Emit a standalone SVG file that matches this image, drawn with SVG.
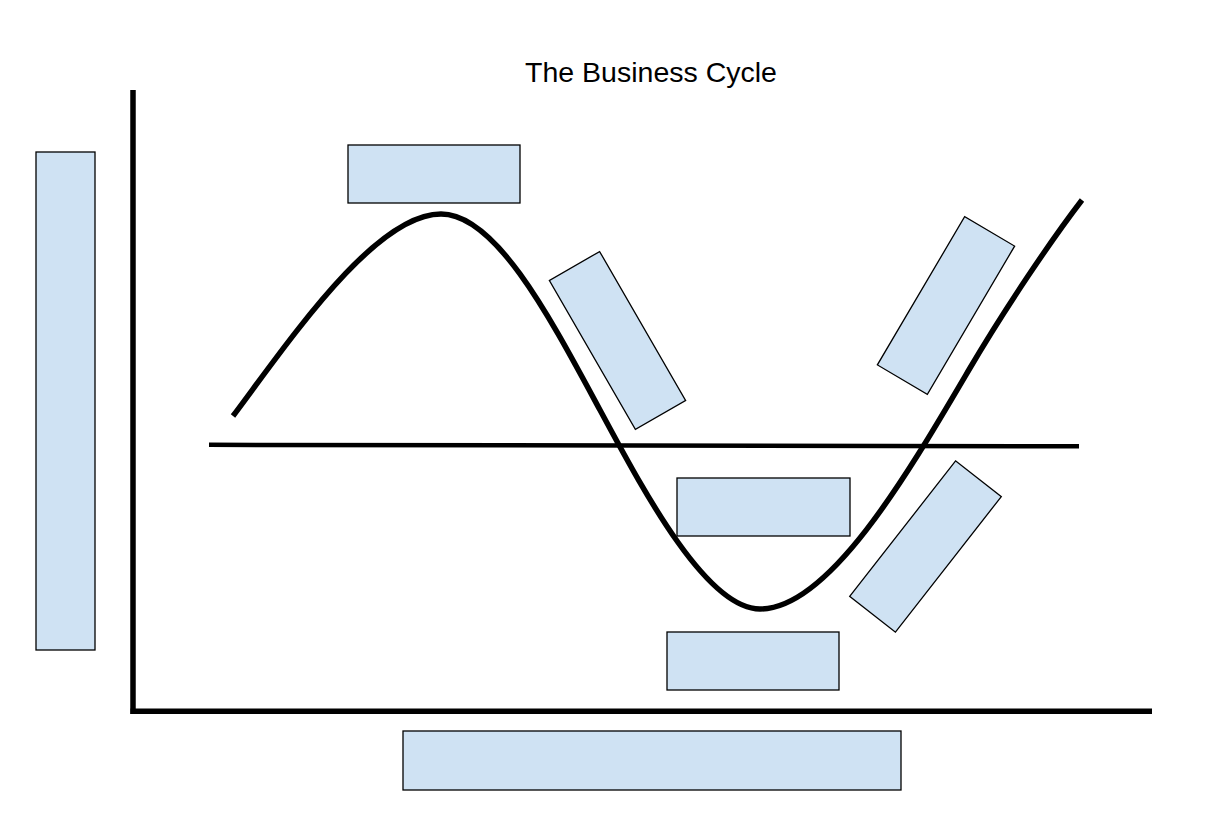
<svg xmlns="http://www.w3.org/2000/svg" width="1228" height="813" viewBox="0 0 1228 813">
  <style>
    .box { fill: #cfe2f3; stroke: #000000; stroke-width: 1.3; }
    .axis { stroke: #000000; stroke-width: 5.5; fill: none; }
    .curve { stroke: #000000; stroke-width: 5.5; fill: none; }
    .title { font-family: "Liberation Sans", Arial, sans-serif; font-size: 28.5px; fill: #000000; }
  </style>
  <rect x="0" y="0" width="1228" height="813" fill="#ffffff"/>
  <g id="title">
    <text class="title" x="651" y="82" text-anchor="middle">The Business Cycle</text>
  </g>
  <g id="connectors">
    <line class="axis" x1="133" y1="90" x2="133" y2="714"/>
    <line class="axis" x1="130.5" y1="711.3" x2="1152" y2="711.3"/>
    <line class="axis" x1="209" y1="444.8" x2="1079" y2="446.3" style="stroke-width:4.5"/>
    <path class="curve" d="M233,416 C290,340 375,214 441,214 C496,214 550,317.5 600,410 C640,484 705,609 760,609 C830,609 910,470 970,368 C1005,308.5 1052,239 1082,200"/>
  </g>
  <g id="node-left">
    <rect class="box" x="36" y="152" width="59" height="498"/>
  </g>
  <g id="node-bottom">
    <rect class="box" x="403" y="731" width="498" height="59"/>
  </g>
  <g id="node-peak">
    <rect class="box" x="348" y="145" width="172" height="58"/>
  </g>
  <g id="node-contraction">
    <rect class="box" x="-86" y="-29" width="172" height="58" transform="translate(617.5,340.5) rotate(60)"/>
  </g>
  <g id="node-trough-top">
    <rect class="box" x="677" y="478" width="173" height="58"/>
  </g>
  <g id="node-trough-bottom">
    <rect class="box" x="667" y="632" width="172" height="58"/>
  </g>
  <g id="node-recovery">
    <rect class="box" x="-86" y="-29" width="172" height="58" transform="translate(925.5,546.5) rotate(-52)"/>
  </g>
  <g id="node-expansion">
    <rect class="box" x="-86" y="-29" width="172" height="58" transform="translate(946,305.5) rotate(-59.5)"/>
  </g>
</svg>
